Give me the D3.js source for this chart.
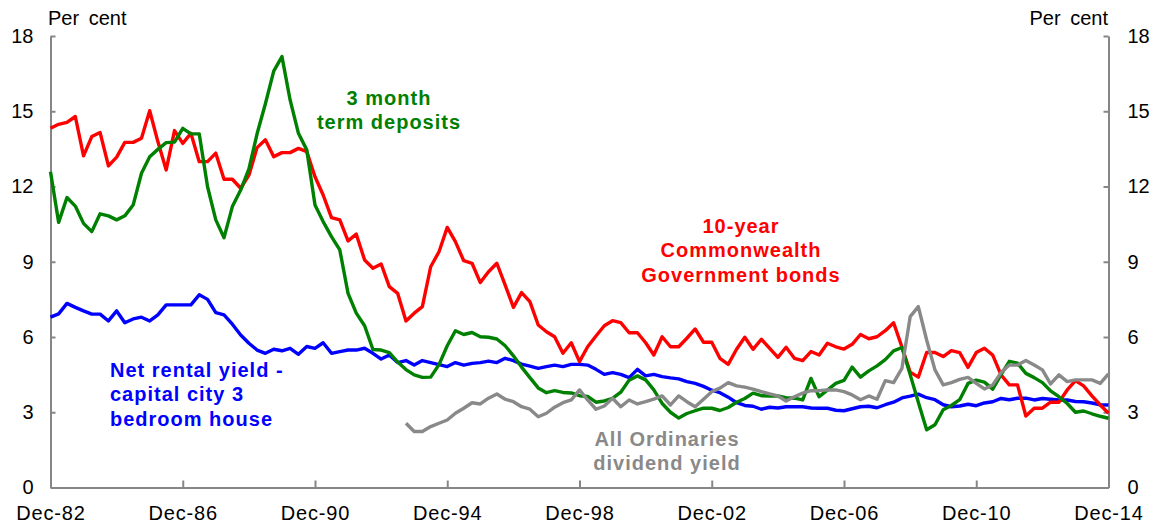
<!DOCTYPE html>
<html>
<head>
<meta charset="utf-8">
<script src="https://cdn.jsdelivr.net/npm/d3@7"></script>
<style>
  body { margin: 0; background: #fff; }
  text { font-family: "Liberation Sans", Arial, sans-serif; }
</style>
</head>
<body>
<div class="canvas"></div>
<script>
// quarterly, Dec-82 to Dec-14
const firstQuarter = new Date(1982, 11, 1);
const quarterCount = 129;

const bondYield = [
  14.32, 14.48, 14.56, 14.79, 13.22, 13.99, 14.15, 12.82, 13.17, 13.76, 13.76, 13.92, 15.02, 13.79, 12.66, 14.23,
  13.72, 14.12, 12.99, 12.99, 13.33, 12.29, 12.29, 11.93, 12.45, 13.55, 13.86, 13.19, 13.35, 13.35, 13.52, 13.39,
  12.39, 11.66, 10.76, 10.67, 9.83, 10.1, 9.07, 8.74, 8.91, 8.01, 7.74, 6.64, 6.95, 7.21, 8.8, 9.4,
  10.37, 9.8, 9.04, 8.94, 8.17, 8.6, 8.94, 8.07, 7.18, 7.77, 7.41, 6.48, 6.21, 6.01, 5.35, 5.77,
  5.02, 5.61, 6.04, 6.45, 6.65, 6.57, 6.17, 6.17, 5.77, 5.28, 6.01, 5.61, 5.61, 5.95, 6.32, 5.79,
  5.79, 5.15, 4.91, 5.51, 5.99, 5.51, 5.91, 5.55, 5.19, 5.59, 5.15, 5.06, 5.42, 5.28, 5.75, 5.61,
  5.52, 5.71, 6.1, 5.93, 6.01, 6.25, 6.57, 5.6, 4.6, 4.4, 5.38, 5.38, 5.22, 5.46, 5.38, 4.79,
  5.38, 5.55, 5.28, 4.49, 4.09, 4.09, 2.85, 3.16, 3.16, 3.4, 3.4, 3.89, 4.26, 4.05, 3.65, 3.29,
  2.96
];

const termDeposits = [
  12.59, 10.57, 11.56, 11.22, 10.53, 10.2, 10.91, 10.83, 10.67, 10.83, 11.26, 12.53, 13.19, 13.48, 13.75, 13.77,
  14.32, 14.1, 14.1, 11.99, 10.67, 9.96, 11.2, 11.86, 12.7, 14.1, 15.3, 16.6, 17.18, 15.45, 14.12, 13.46,
  11.26, 10.6, 10.0, 9.47, 7.74, 6.95, 6.45, 5.5, 5.48, 5.38, 5.0, 4.7, 4.49, 4.39, 4.4, 4.9,
  5.65, 6.25, 6.1, 6.18, 6.01, 5.99, 5.92, 5.65, 5.25, 4.8, 4.38, 3.97, 3.78, 3.86, 3.79, 3.77,
  3.66, 3.63, 3.4, 3.45, 3.55, 3.8, 4.28, 4.45, 4.29, 3.89, 3.35, 3.0, 2.77, 2.95, 3.06, 3.16,
  3.16, 3.07, 3.19, 3.4, 3.55, 3.76, 3.66, 3.65, 3.65, 3.58, 3.56, 3.49, 4.35, 3.62, 3.88, 4.15,
  4.27, 4.8, 4.4, 4.65, 4.85, 5.1, 5.45, 5.58, 4.5, 3.4, 2.3, 2.5, 3.1, 3.27, 3.5, 4.15,
  4.28, 4.2, 3.92, 4.5, 5.03, 4.96, 4.55, 4.38, 4.18, 3.85, 3.62, 3.35, 3.0, 3.05, 2.94, 2.84,
  2.76
];

const rentalYield = [
  6.79, 6.92, 7.34, 7.18, 7.04, 6.91, 6.91, 6.64, 7.04, 6.57, 6.72, 6.79, 6.64, 6.88, 7.28, 7.28,
  7.28, 7.28, 7.68, 7.5, 6.97, 6.88, 6.51, 6.08, 5.75, 5.48, 5.35, 5.51, 5.45, 5.55, 5.31, 5.62,
  5.55, 5.77, 5.35, 5.42, 5.48, 5.48, 5.55, 5.35, 5.12, 5.28, 4.98, 5.06, 4.88, 5.06, 4.98, 4.9,
  4.82, 4.98, 4.88, 4.95, 4.98, 5.04, 4.98, 5.15, 5.06, 4.92, 4.84, 4.75, 4.82, 4.88, 4.82, 4.91,
  4.91, 4.88, 4.71, 4.51, 4.58, 4.51, 4.38, 4.71, 4.45, 4.51, 4.42, 4.37, 4.33, 4.22, 4.15, 4.03,
  3.88, 3.78, 3.6, 3.38, 3.27, 3.24, 3.12, 3.2, 3.17, 3.22, 3.22, 3.22, 3.17, 3.16, 3.16, 3.08,
  3.06, 3.14, 3.22, 3.24, 3.18, 3.3, 3.4, 3.57, 3.64, 3.72, 3.58, 3.5, 3.3, 3.22, 3.25, 3.32,
  3.26, 3.37, 3.42, 3.55, 3.5, 3.56, 3.56, 3.49, 3.55, 3.52, 3.49, 3.49, 3.43, 3.42, 3.37, 3.3,
  3.29
];

// All Ordinaries series starts in the 44th quarter
const dividendStart = 43;
const dividendYield = [
  2.56, 2.23, 2.23, 2.43, 2.56, 2.69, 2.96, 3.16, 3.38, 3.33, 3.56, 3.73, 3.52, 3.42, 3.22, 3.12,
  2.82, 2.96, 3.2, 3.38, 3.49, 3.89, 3.49, 3.12, 3.25, 3.56, 3.22, 3.49, 3.33, 3.42, 3.52, 3.65,
  3.29, 3.65, 3.42, 3.22, 3.52, 3.82, 3.96, 4.18, 4.05, 4.0, 3.92, 3.82, 3.73, 3.65, 3.45, 3.62,
  3.76, 3.86, 3.86, 3.89, 3.89, 3.82, 3.69, 3.5, 3.65, 3.52, 4.26, 4.18, 4.75, 6.81, 7.21, 5.88,
  4.69, 4.09, 4.18, 4.31, 4.39, 4.15, 3.93, 4.09, 4.58, 4.88, 4.88, 5.06, 4.88, 4.69, 4.13, 4.49,
  4.22, 4.29, 4.29, 4.29, 4.15, 4.53
];

const yTicks = [0, 3, 6, 9, 12, 15, 18];

const dims = {width: 1159, height: 527, left: 50.5, right: 1108.5, top: 36, bottom: 487.5};

const dates = d3.range(quarterCount).map(i => d3.timeMonth.offset(firstQuarter, 3 * i));
const xTicks = dates.filter((d, i) => i % 16 === 0);

const svg = d3.select('.canvas')
    .append('svg')
    .attr('width', dims.width)
    .attr('height', dims.height);

const x = d3.scaleTime()
    .domain([dates[0], dates[quarterCount - 1]])
    .range([dims.left, dims.right]);

const y = d3.scaleLinear()
    .domain([0, 18])
    .range([dims.bottom, dims.top]);

const axisColor = '#868686';

const styleAxis = g => {
    g.select('.domain').attr('stroke', axisColor).attr('stroke-width', 2);
    g.selectAll('.tick line').attr('stroke', axisColor).attr('stroke-width', 2);
    g.selectAll('.tick text').attr('fill', '#000').style('font-size', '20px');
};

svg.append('g')
    .attr('transform', `translate(0, ${dims.bottom})`)
    .call(d3.axisBottom(x).tickValues(xTicks).tickFormat(d3.timeFormat('%b-%y'))
        .tickSizeInner(-7).tickSizeOuter(0).tickPadding(18))
    .call(styleAxis)
    .call(g => g.selectAll('.tick text').style('letter-spacing', '0.8px'));

svg.append('g')
    .attr('transform', `translate(${dims.left}, 0)`)
    .call(d3.axisLeft(y).tickValues(yTicks).tickSizeInner(-5).tickSizeOuter(0).tickPadding(17))
    .call(styleAxis);

svg.append('g')
    .attr('transform', `translate(${dims.right}, 0)`)
    .call(d3.axisRight(y).tickValues(yTicks).tickSizeInner(-5).tickSizeOuter(0).tickPadding(19))
    .call(styleAxis);

svg.append('text').attr('x', 48).attr('y', 25)
    .style('font-size', '20px').style('word-spacing', '4px').text('Per cent');
svg.append('text').attr('x', 1108).attr('y', 25).attr('text-anchor', 'end')
    .style('font-size', '20px').style('word-spacing', '4px').text('Per cent');

const series = [
    {name: 'rental', color: '#0000ff', values: rentalYield, offset: 0},
    {name: 'bond', color: '#ff0000', values: bondYield, offset: 0},
    {name: 'deposit', color: '#008000', values: termDeposits, offset: 0},
    {name: 'dividend', color: '#898989', values: dividendYield, offset: dividendStart}
];

const line = d3.line()
    .x(d => x(d.date))
    .y(d => y(d.value));

svg.selectAll('.series')
    .data(series)
    .enter()
    .append('path')
    .attr('class', 'series')
    .attr('fill', 'none')
    .attr('stroke', d => d.color)
    .attr('stroke-width', 3.4)
    .attr('stroke-linejoin', 'round')
    .attr('d', s => line(s.values.map((v, i) => ({date: dates[i + s.offset], value: v}))));

const labels = [
    {lines: ['3 month', 'term deposits'], color: '#008000', x: 389, y: 105, anchor: 'middle'},
    {lines: ['10-year', 'Commonwealth', 'Government bonds'], color: '#ff0000', x: 741, y: 233, anchor: 'middle'},
    {lines: ['Net rental yield -', 'capital city 3', 'bedroom house'], color: '#0000ff', x: 110, y: 377, anchor: 'start'},
    {lines: ['All Ordinaries', 'dividend yield'], color: '#898989', x: 667, y: 446, anchor: 'middle'}
];

const labelText = svg.selectAll('.label')
    .data(labels)
    .enter()
    .append('text')
    .attr('class', 'label')
    .attr('fill', d => d.color)
    .attr('text-anchor', d => d.anchor)
    .style('font-size', '20px')
    .style('font-weight', 'bold')
    .style('letter-spacing', '1px');

labelText.selectAll('tspan')
    .data(d => d.lines.map((t, i) => ({t, i, x: d.x, y: d.y})))
    .enter()
    .append('tspan')
    .attr('x', d => d.x)
    .attr('y', d => d.y + d.i * 24.3)
    .text(d => d.t);
</script>
</body>
</html>
